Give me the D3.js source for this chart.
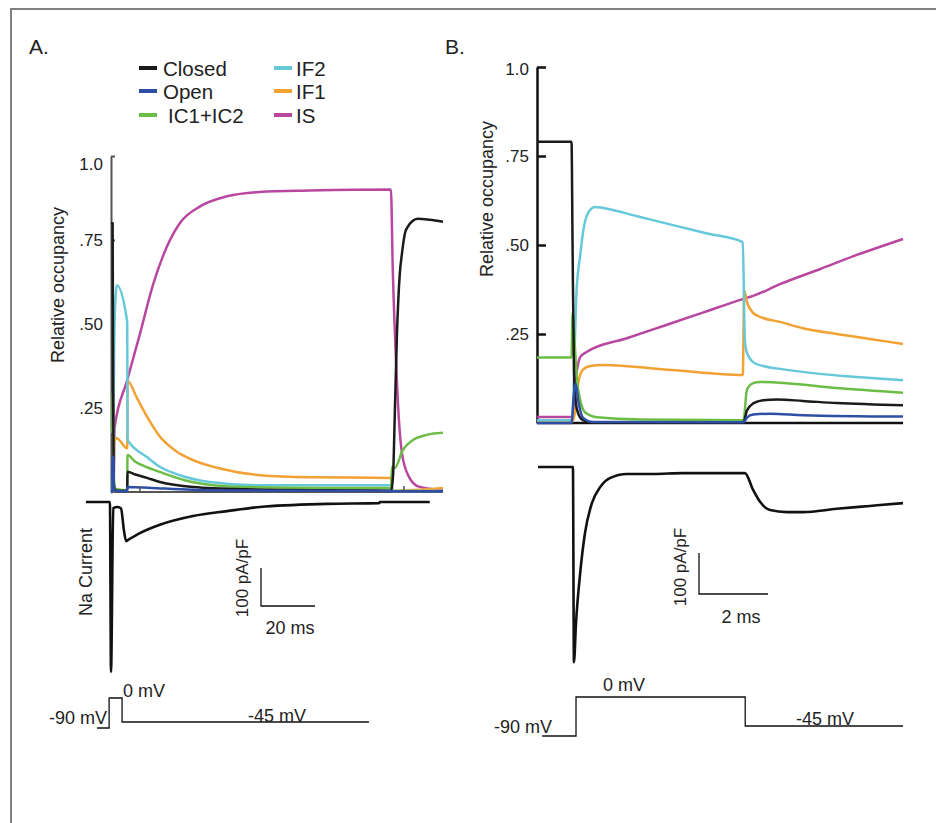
<!DOCTYPE html>
<html>
<head>
<meta charset="utf-8">
<script src="https://cdn.jsdelivr.net/npm/d3@7"></script>
<style>
  body { margin: 0; background: #fff; }
  svg { display: block; font-family: "Liberation Sans", Arial, sans-serif; }
</style>
</head>
<body>
<div id="chart"></div>
<script>

// Channel states shown in the legend, same order as the legend columns
const states = ['Closed', 'Open', 'IC1+IC2', 'IF2', 'IF1', 'IS'];
const state_colors = ['#1b1b1b', '#2f4ea6', '#6cbd45', '#66c9da', '#f2a133', '#b9479f'];
const occ_ticks = [0.25, 0.5, 0.75, 1.0];

//------------------------------------------------------------
// Panel A data, time in ms from start of 0 mV step
//------------------------------------------------------------
const a_closed = [[0,0.8],[0.6,0.8],[0.8,0.3],[1.0,0.03],[1.5,0.004],[6.0,0.004],[6.1,0.06],[9,0.052],[13.3,0.042],[18.1,0.03],[30.4,0.015],[50,0.008],[80,0.005],[103.8,0.004],[104.5,0.05],[105.2,0.25],[105.9,0.46],[107,0.65],[107.8,0.71],[108.9,0.77],[110,0.79],[111.5,0.805],[113.7,0.813],[118,0.81],[123,0.804]];
const a_open = [[0,0],[0.5,0],[0.6,0.105],[0.9,0.105],[1.1,0.004],[6.0,0.002],[6.1,0.015],[15,0.012],[30,0.007],[60,0.004],[103.8,0.003],[104.5,0.002],[123,0.002]];
const a_ic = [[0,0.18],[0.5,0.18],[0.7,0.3],[1.0,0.05],[1.5,0.01],[6.0,0.005],[6.1,0.11],[9,0.09],[13,0.075],[18,0.06],[30,0.03],[49,0.015],[80,0.012],[103.8,0.012],[104.1,0.075],[105.2,0.072],[108.1,0.125],[111.9,0.155],[117,0.17],[123,0.176]];
const a_if2 = [[0,0],[0.7,0.02],[1.2,0.45],[1.7,0.58],[2.1,0.615],[6.0,0.506],[6.15,0.155],[7,0.145],[13.3,0.104],[18.1,0.075],[25.5,0.05],[36.6,0.03],[55,0.02],[103.8,0.02],[104.5,0.003],[123,0.003]];
const a_if1 = [[0,0],[0.7,0],[1.2,0.15],[2.1,0.16],[6.0,0.13],[6.15,0.33],[9.6,0.28],[13.3,0.225],[18.1,0.165],[24.4,0.12],[30.4,0.095],[40.4,0.07],[55.2,0.05],[73.7,0.044],[103.8,0.042],[104.3,0.004],[123,0.012]];
const a_is = [[0,0.005],[1.0,0.01],[1.3,0.19],[5.9,0.33],[10.7,0.47],[15.5,0.615],[20.7,0.73],[25.5,0.8],[33,0.85],[43,0.88],[55,0.893],[73.7,0.897],[103.7,0.9],[104.4,0.66],[105.5,0.41],[106.7,0.21],[107.8,0.115],[110.4,0.045],[114,0.016],[123,0.006]];
const a_axis_marks = [10.7, 108.5];

// Na current, pA/pF
const a_current = [[-9.3,0],[-0.4,0],[0,-447],[0.85,-16],[1.5,-14],[2.5,-13],[3.7,-17],[4.8,-75],[5.6,-103],[6.3,-100],[10.7,-82],[18.1,-60],[30.4,-37],[43,-24],[55.2,-13],[80,-5],[99.4,-3],[99.6,0],[118.1,0]];
// Voltage protocol, mV
const a_voltage = [[-5.2,-90],[-0.7,-90],[-0.7,0],[4.1,0],[4.1,-45],[95.6,-45]];

//------------------------------------------------------------
// Panel B data, time in ms
//------------------------------------------------------------
const b_closed = [[-1,0.79],[0,0.79],[0.03,0.5],[0.07,0.15],[0.12,0.06],[0.2,0.025],[0.33,0.008],[0.6,0.002],[4.98,0.002],[5.08,0.035],[5.26,0.055],[5.55,0.064],[5.95,0.066],[6.7,0.062],[7.68,0.056],[9.6,0.05]];
const b_open = [[-1,0],[0,0],[0.07,0.08],[0.12,0.11],[0.2,0.06],[0.33,0.015],[0.6,0.003],[4.98,0.002],[5.08,0.015],[5.26,0.024],[5.75,0.026],[6.7,0.022],[9.6,0.018]];
const b_ic = [[-1,0.184],[0,0.184],[0.03,0.31],[0.1,0.21],[0.16,0.12],[0.25,0.065],[0.39,0.03],[0.74,0.016],[2,0.01],[4.98,0.008],[5.08,0.093],[5.26,0.112],[5.46,0.115],[6.24,0.112],[7.68,0.098],[9.6,0.085]];
const b_if2 = [[-1,0.008],[0.01,0.008],[0.15,0.38],[0.25,0.47],[0.34,0.54],[0.48,0.59],[0.68,0.607],[0.91,0.604],[1.9,0.581],[2.85,0.558],[3.9,0.533],[4.96,0.508],[5.02,0.233],[5.08,0.197],[5.26,0.171],[5.55,0.16],[6.04,0.152],[7.19,0.138],[8.15,0.13],[9.6,0.12]];
const b_if1 = [[-1,0.003],[0.02,0.003],[0.1,0.03],[0.19,0.11],[0.33,0.15],[0.54,0.16],[0.91,0.163],[2.9,0.149],[4.96,0.135],[5.0,0.372],[5.08,0.34],[5.26,0.309],[5.55,0.295],[6.04,0.284],[6.7,0.266],[7.68,0.25],[8.64,0.236],[9.6,0.222]];
const b_is = [[-1,0.017],[0.01,0.017],[0.16,0.15],[0.25,0.185],[0.45,0.2],[1.6,0.238],[2.7,0.274],[3.8,0.31],[4.96,0.348],[5.26,0.357],[6.04,0.39],[7.19,0.432],[8.15,0.468],[9.6,0.517]];

const b_current = [[-0.97,0],[0.04,0],[0.07,-476],[0.13,-380],[0.25,-259],[0.39,-161],[0.59,-88],[0.83,-49],[1.11,-27],[1.61,-17],[2.36,-17],[3.23,-15],[5.02,-15],[5.26,-56],[5.46,-85],[5.75,-105],[6.24,-110],[6.7,-110],[7.68,-102],[8.64,-95],[9.6,-88]];
const b_voltage = [[-0.85,-90],[0.13,-90],[0.13,0],[5.03,0],[5.03,-45],[9.6,-45]];


// Layout constants
const C = {
  width: 936,
  height: 823,
  text: '#222',
  occ_width: 2.5,
  current_width: 2.6,
  thin: 1.3,
  tick_font: 17,
  label_font: 18,
  legend_font: 20.5,
};

const svg = d3.select('#chart').append('svg')
  .attr('width', C.width)
  .attr('height', C.height);

// Figure frame, open to the right and bottom
svg.append('path')
  .attr('d', 'M11,823V9H936')
  .attr('fill', 'none')
  .attr('stroke', '#808080')
  .attr('stroke-width', 2);

// Scales for both panels
const A = {
  x: d3.scaleLinear().domain([0, 123]).range([111, 443]),
  occ: d3.scaleLinear().domain([0, 1]).range([492, 156]),
  cur: d3.scaleLinear().domain([0, -100]).range([502, 540]),
  volt: d3.scaleLinear().domain([-90, -45, 0]).range([728, 722, 698]),
  series: [a_closed, a_open, a_ic, a_if2, a_if1, a_is],
  current: a_current,
  voltage: a_voltage,
  axis_color: '#555',
  axis_width: 2,
  tick_len: 4,
  top_label_dy: 8, // the 1.0 label sits a little below its tick in panel A
};

const B = {
  x: d3.scaleLinear().domain([-1, 9.6]).range([537, 903]),
  occ: d3.scaleLinear().domain([0, 1]).range([423, 67]),
  cur: d3.scaleLinear().domain([0, -100]).range([467, 508]),
  volt: d3.scaleLinear().domain([-90, -45, 0]).range([736, 726, 697]),
  series: [b_closed, b_open, b_ic, b_if2, b_if1, b_is],
  current: b_current,
  voltage: b_voltage,
  axis_color: '#111',
  axis_width: 2.5,
  tick_len: 9,
  top_label_dy: 2,
};

// Order to paint the state traces (last is on top)
const draw_order = [5, 4, 3, 2, 0, 1];

function add_text(g, txt, x, y, opts = {}){
  const t = g.append('text')
    .attr('x', x)
    .attr('y', y)
    .attr('fill', C.text)
    .attr('font-size', opts.size || C.label_font)
    .attr('text-anchor', opts.anchor || 'middle')
    .attr('dominant-baseline', 'central')
    .text(txt);
  if(opts.rotate){
    t.attr('transform', `rotate(-90,${x},${y})`);
  }
  return t;
}

function draw_panel(P){
  const g = svg.append('g');

  const occ_line = d3.line()
    .x(d => P.x(d[0]))
    .y(d => P.occ(d[1]))
    .curve(d3.curveMonotoneX);

  // Occupancy y axis, ticks pointing into the plot
  const yaxis = g.append('g')
    .attr('transform', `translate(${P.x.range()[0]},0)`)
    .call(
      d3.axisLeft(P.occ)
        .tickValues(occ_ticks)
        .tickSizeInner(-P.tick_len)
        .tickSizeOuter(0)
        .tickPadding(8)
        .tickFormat(d => d === 1 ? '1.0' : d3.format('.2f')(d).replace(/^0/, ''))
    );
  yaxis.select('.domain').attr('stroke', P.axis_color).attr('stroke-width', P.axis_width);
  yaxis.selectAll('.tick line').attr('stroke', P.axis_color).attr('stroke-width', P.axis_width);
  yaxis.selectAll('.tick text')
    .attr('font-size', C.tick_font)
    .attr('font-family', '"Liberation Sans", Arial, sans-serif')
    .attr('fill', C.text)
    .attr('y', d => d === 1 ? P.top_label_dy : 0);

  // Baseline of occupancy plot
  g.append('line')
    .attr('x1', P.x.range()[0]).attr('x2', P.x.range()[1])
    .attr('y1', P.occ(0)).attr('y2', P.occ(0))
    .attr('stroke', P.axis_color)
    .attr('stroke-width', P.axis_width);

  // State occupancy traces
  draw_order.forEach(i => {
    g.append('path')
      .datum(P.series[i])
      .attr('d', occ_line)
      .attr('fill', 'none')
      .attr('stroke', state_colors[i])
      .attr('stroke-width', C.occ_width)
      .attr('stroke-linejoin', 'round');
  });

  // Na current trace
  g.append('path')
    .datum(P.current)
    .attr('d', d3.line()
      .x(d => P.x(d[0]))
      .y(d => P.cur(d[1]))
      .curve(d3.curveMonotoneX))
    .attr('fill', 'none')
    .attr('stroke', '#111')
    .attr('stroke-width', C.current_width)
    .attr('stroke-linejoin', 'round');

  // Voltage step protocol
  g.append('path')
    .datum(P.voltage)
    .attr('d', d3.line()
      .x(d => P.x(d[0]))
      .y(d => P.volt(d[1])))
    .attr('fill', 'none')
    .attr('stroke', '#111')
    .attr('stroke-width', C.thin);

  return g;
}

// Scale bar, corner at (x0, y0), sizes come from the panel scales
function scale_bar(g, P, x0, y0, ms){
  const w = P.x(ms) - P.x(0);
  const h = P.cur(-100) - P.cur(0);
  g.append('path')
    .attr('d', `M${x0},${y0 - h}V${y0}H${x0 + w}`)
    .attr('fill', 'none')
    .attr('stroke', '#111')
    .attr('stroke-width', C.thin);
}

//------------------------------------------------------------
// Panel A
//------------------------------------------------------------
const gA = draw_panel(A);

// Small marks standing on the time axis
gA.selectAll('.mark')
  .data(a_axis_marks)
  .enter()
  .append('line')
  .attr('x1', d => A.x(d)).attr('x2', d => A.x(d))
  .attr('y1', A.occ(0)).attr('y2', A.occ(0) - 6)
  .attr('stroke', A.axis_color)
  .attr('stroke-width', 1.5);

add_text(gA, 'A.', 29, 46, {size: 21, anchor: 'start'});
add_text(gA, 'Relative occupancy', 58, 285, {rotate: true});
add_text(gA, 'Na Current', 86, 572, {rotate: true});
scale_bar(gA, A, 261, 606, 20);
add_text(gA, '100 pA/pF', 242, 578, {rotate: true, size: 17});
add_text(gA, '20 ms', 290, 628);
add_text(gA, '-90 mV', 107, 718, {anchor: 'end'});
add_text(gA, '0 mV', 123, 691, {anchor: 'start'});
add_text(gA, '-45 mV', 277, 716);

// Legend
const legend = gA.append('g');
const legend_rows = [68, 91, 115];
const legend_cols = [[139, 157, 163], [274, 292, 296]];
states.forEach((s, i) => {
  const col = legend_cols[Math.floor(i / 3)];
  const y = legend_rows[i % 3];
  legend.append('line')
    .attr('x1', col[0]).attr('x2', col[1])
    .attr('y1', y).attr('y2', y)
    .attr('stroke', state_colors[i])
    .attr('stroke-width', 4);
  add_text(legend, s, col[2] + (s === 'IC1+IC2' ? 5 : 0), y, {size: C.legend_font, anchor: 'start'});
});

//------------------------------------------------------------
// Panel B
//------------------------------------------------------------
const gB = draw_panel(B);

add_text(gB, 'B.', 445, 46, {size: 21, anchor: 'start'});
add_text(gB, 'Relative occupancy', 487, 199, {rotate: true});
scale_bar(gB, B, 699, 594, 2);
add_text(gB, '100 pA/pF', 680, 567, {rotate: true, size: 17});
add_text(gB, '2 ms', 741, 617);
add_text(gB, '-90 mV', 552, 727, {anchor: 'end'});
add_text(gB, '0 mV', 624, 685);
add_text(gB, '-45 mV', 825, 719);

</script>
</body>
</html>
